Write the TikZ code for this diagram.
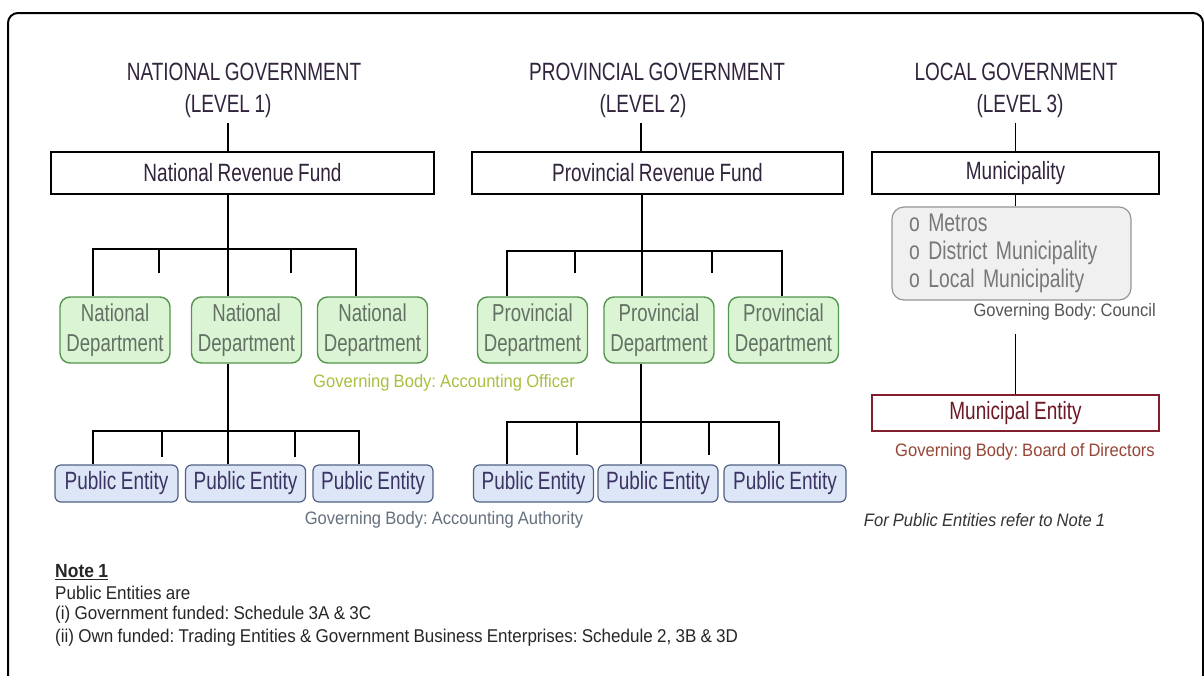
\documentclass[tikz,border=0pt]{standalone}
\usepackage{fontspec}
\setmainfont{Liberation Sans}[FakeStretch=0.76, WordSpace=0.85]
\newfontfamily\notefont{Liberation Sans}[FakeStretch=0.92, WordSpace=0.9]
\usetikzlibrary{calc}
\frenchspacing

\definecolor{inkpurple}{RGB}{50,36,60}
\definecolor{deptgreen}{RGB}{218,244,212}
\definecolor{deptedge}{RGB}{84,150,78}
\definecolor{depttext}{RGB}{100,112,100}
\definecolor{entblue}{RGB}{220,230,246}
\definecolor{entedge}{RGB}{80,98,130}
\definecolor{enttext}{RGB}{60,52,100}
\definecolor{officer}{RGB}{168,192,64}
\definecolor{authority}{RGB}{100,112,125}
\definecolor{councilgray}{RGB}{85,85,85}
\definecolor{munifill}{RGB}{240,240,240}
\definecolor{muniedge}{RGB}{150,150,150}
\definecolor{munitext}{RGB}{120,120,120}
\definecolor{entityred}{RGB}{130,30,45}
\definecolor{boardbrown}{RGB}{150,70,55}

\tikzset{
  wire/.style={line width=1.4pt, color=black},
  heading/.style={inner sep=0pt, text=inkpurple, font=\fontsize{25}{30}\selectfont},
  fundbox/.style={draw=black, line width=1.4pt, minimum height=42pt, inner sep=0pt, text=inkpurple, font=\fontsize{25}{30}\selectfont},
  deptbox/.style={draw=deptedge, fill=deptgreen, line width=1.4pt, rounded corners=10pt, minimum width=110pt, minimum height=66pt, inner sep=0pt, align=center, text=depttext, font=\fontsize{24.5}{30}\selectfont},
  entbox/.style={draw=entedge, fill=entblue, line width=1.2pt, rounded corners=6pt, minimum width=120pt, minimum height=37pt, inner sep=0pt, text=enttext, font=\fontsize{25}{30}\selectfont},
  munibox/.style={draw=muniedge, fill=munifill, line width=1.2pt, rounded corners=12pt, text width=205pt, inner xsep=17pt, inner ysep=7pt, minimum height=93pt, align=left, text=munitext, font=\fontsize{25.5}{28}\selectfont},
  govnote/.style={inner sep=0pt, font=\notefont\fontsize{18}{22}\selectfont},
  notetext/.style={inner sep=0pt, anchor=west, text=black!85, font=\notefont\fontsize{18.5}{22}\selectfont},
}

\begin{document}
\begin{tikzpicture}[x=1pt, y=-1pt]
  %%%%% START %%%%%
  \useasboundingbox (0,0) rectangle (1204,675);
  \clip (0,0) rectangle (1204,675);
  \fill[white] (0,0) rectangle (1204,675);
  \draw[line width=2pt, rounded corners=10pt] (8,13) rectangle (1203,700);

  % national government
  \node[heading] (ngov) at (244,72) {NATIONAL GOVERNMENT};
  \node[heading] (nlev) at (228,106) {(LEVEL 1)};
  \node[fundbox, minimum width=383pt] (nrf) at (242.5,173) {National Revenue Fund};

  \node[deptbox] (nd1) at (115,330) {National\\Department};
  \node[deptbox] (nd2) at (246.5,330) {National\\Department};
  \node[deptbox] (nd3) at (372.5,330) {National\\Department};

  \node[entbox, minimum width=123pt] (np1) at (116.5,483.5) {Public Entity};
  \node[entbox] (np2) at (245.5,483.5) {Public Entity};
  \node[entbox] (np3) at (373,483.5) {Public Entity};

  \draw[wire] ([yshift=-5pt]nlev.south) -- (nlev.south |- nrf.north);

  \coordinate (nbus) at (228,249);
  \coordinate (nbl) at (93,249);
  \coordinate (nbr) at (356,249);
  \draw[wire] (nrf.south -| nbus) -- (nbus |- nd2.north);
  \draw[wire] (nbl |- nd1.north) -- (nbl) -- (nbr) -- (nbr |- nd3.north);
  \foreach \x in {159,291} \draw[wire] (\x,249) -- (\x,273);

  \coordinate (nebus) at (228,431);
  \coordinate (nel) at (93,431);
  \coordinate (ner) at (359,431);
  \draw[wire] (nd2.south -| nebus) -- (nebus |- np2.north);
  \draw[wire] (nel |- np1.north) -- (nel) -- (ner) -- (ner |- np3.north);
  \foreach \x in {162,295} \draw[wire] (\x,431) -- (\x,457);

  % provincial government
  \node[heading] (pgov) at (657,72) {PROVINCIAL GOVERNMENT};
  \node[heading] (plev) at (643,106) {(LEVEL 2)};
  \node[fundbox, minimum width=371pt] (prf) at (657.5,173) {Provincial Revenue Fund};

  \node[deptbox] (pd1) at (532.5,330) {Provincial\\Department};
  \node[deptbox] (pd2) at (659,330) {Provincial\\Department};
  \node[deptbox] (pd3) at (783.5,330) {Provincial\\Department};

  \node[entbox] (pp1) at (533.5,483.5) {Public Entity};
  \node[entbox] (pp2) at (658,483.5) {Public Entity};
  \node[entbox, minimum width=122pt] (pp3) at (785,483.5) {Public Entity};

  \draw[wire] ([yshift=-5pt]plev.south -| 641,0) -- (641,152);

  \coordinate (pbus) at (642,251);
  \coordinate (pbl) at (507,251);
  \coordinate (pbr) at (782,251);
  \draw[wire] (prf.south -| pbus) -- (pbus |- pd2.north);
  \draw[wire] (pbl |- pd1.north) -- (pbl) -- (pbr) -- (pbr |- pd3.north);
  \foreach \x in {575,712} \draw[wire] (\x,251) -- (\x,273);

  \coordinate (pebus) at (641,422);
  \coordinate (pel) at (507,422);
  \coordinate (per) at (779,422);
  \draw[wire] (pd2.south -| pebus) -- (pebus |- pp2.north);
  \draw[wire] (pel |- pp1.north) -- (pel) -- (per) -- (per |- pp3.north);
  \foreach \x in {577,709} \draw[wire] (\x,422) -- (\x,455);

  \node[govnote, text=officer] (officer) at (444,383) {Governing Body: Accounting Officer};
  \node[govnote, text=authority] (authority) at (444,520) {Governing Body: Accounting Authority};

  % local government
  \node[heading] (lgov) at (1016,72) {LOCAL GOVERNMENT};
  \node[heading] (llev) at (1020,106) {(LEVEL 3)};
  \node[fundbox, minimum width=287pt] (mun) at (1015.5,173) {Municipality};
  \node[munibox] (mtypes) at (1011.5,253.5) {o Metros\\o District Municipality\\o Local Municipality};
  \node[govnote, text=councilgray, anchor=east] (council) at (1156,312) {Governing Body: Council};
  \node[fundbox, draw=entityred, text=entityred!85!black, minimum width=287pt, minimum height=36pt] (ment) at (1015.5,413) {Municipal Entity};
  \node[govnote, text=boardbrown] (board) at (1025,452) {Governing Body: Board of Directors};
  \node[govnote, text=black!80, font=\notefont\itshape\fontsize{18}{22}\selectfont] (refer) at (984.5,520) {For Public Entities refer to Note 1};

  \draw[wire] ([yshift=-5pt]llev.south -| mun.north) -- (mun.north);
  \draw[wire] (mun.south) -- (mun.south |- mtypes.north);
  \draw[wire] (ment.north) -- ([yshift=-13pt]council.south -| ment.north);

  % note
  \node[notetext, font=\notefont\bfseries\fontsize{19}{22}\selectfont] (note) at (55,572) {\underline{Note 1}};
  \node[notetext] (noteA) at (55,593) {Public Entities are};
  \node[notetext] (noteB) at (55,615) {(i) Government funded: Schedule 3A \& 3C};
  \node[notetext] (noteC) at (55,638) {(ii) Own funded: Trading Entities \& Government Business Enterprises: Schedule 2, 3B \& 3D};
  %%%%% END %%%%%
\end{tikzpicture}
\end{document}
